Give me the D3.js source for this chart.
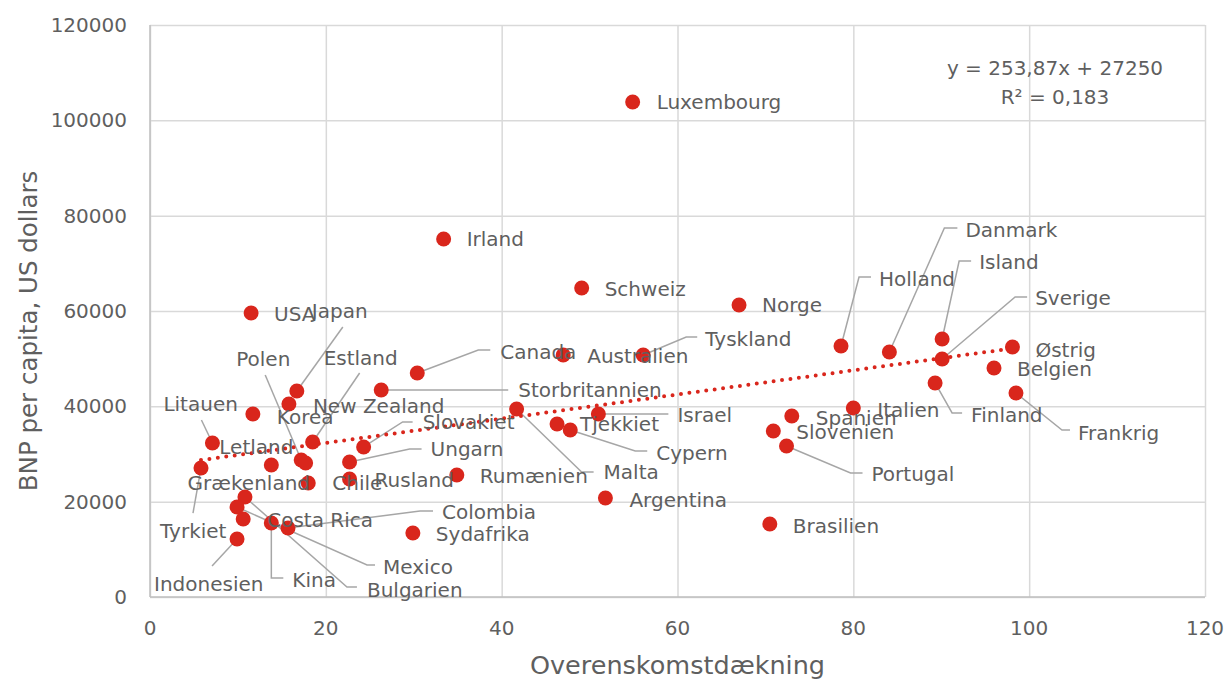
<!DOCTYPE html>
<html>
<head>
<meta charset="utf-8">
<script src="https://cdn.jsdelivr.net/npm/d3@7"></script>
<style>
	body { margin: 0; background: #fff; }
	svg text { font-family: "DejaVu Sans", "Lato", sans-serif; fill: #5f5f5f; }
	.grid line { stroke: #d9d9d9; stroke-width: 1.5; }
	.grid path { display: none; }
	.leader { stroke: #a6a6a6; stroke-width: 1.5; fill: none; }
</style>
</head>
<body>
<div id="chart"></div>
<script>
// data
const countries = ["Luxembourg", "Irland", "Schweiz", "Norge", "USA", "Japan", "New Zealand", "Korea",
	"Litauen", "Estland", "Slovakiet", "Tyrkiet", "Letland", "Polen", "Grækenland", "Ungarn",
	"Rusland", "Chile", "Bulgarien", "Mexico", "Costa Rica", "Kina", "Colombia", "Indonesien",
	"Sydafrika", "Rumænien", "Canada", "Storbritannien", "Australien", "Tyskland", "Malta", "Israel",
	"Tjekkiet", "Cypern", "Argentina", "Holland", "Danmark", "Island", "Sverige", "Østrig",
	"Belgien", "Finland", "Frankrig", "Italien", "Spanien", "Slovenien", "Portugal", "Brasilien"];
const coverage = [54.9, 33.4, 49.1, 67.0, 11.5, 16.7, 15.8, 11.7,
	7.1, 18.5, 24.3, 5.8, 13.8, 17.2, 17.7, 22.7,
	22.7, 18.0, 10.8, 9.9, 10.6, 13.8, 15.7, 9.9,
	29.9, 34.9, 30.4, 26.3, 47.0, 56.1, 41.7, 51.0,
	46.3, 47.8, 51.8, 78.6, 84.1, 90.1, 90.1, 98.1,
	96.0, 89.3, 98.5, 80.0, 73.0, 70.9, 72.4, 70.5];
const gdp = [103850, 75100, 64830, 61260, 59580, 43220, 40490, 38390,
	32310, 32520, 31470, 27060, 27690, 28740, 28110, 28320,
	24760, 23920, 20980, 18880, 16360, 15530, 14480, 12170,
	13430, 25600, 47000, 43430, 50770, 50770, 39440, 38390,
	36300, 35040, 20770, 52660, 51400, 54130, 49930, 52450,
	48040, 44900, 42800, 39650, 37970, 34830, 31680, 15320];
const xTicks = [0, 20, 40, 60, 80, 100, 120];
const yTicks = [0, 20000, 40000, 60000, 80000, 100000, 120000];
const trendSlope = 253.87, trendIntercept = 27250;
const trendLabel = ["y = 253,87x + 27250", "R² = 0,183"];

// label placement: text offset from the dot (px) and optional leader line points
const labelLayout = {
	"Luxembourg": {dx: 24, dy: 0}, "Irland": {dx: 23, dy: 0}, "Schweiz": {dx: 23, dy: 1},
	"Norge": {dx: 23, dy: 0}, "USA": {dx: 23, dy: 1},
	"Japan": {dx: 15, dy: -80, lead: [[46, -64]]},
	"New Zealand": {dx: 24, dy: 2}, "Korea": {dx: 24, dy: 3},
	"Litauen": {dx: -49, dy: -39, lead: [[-11, -23]]},
	"Estland": {dx: 11, dy: -84, lead: [[47, -69]]},
	"Slovakiet": {dx: 59, dy: -25, lead: [[39, -25], [49, -25]]},
	"Tyrkiet": {dx: -41, dy: 63, lead: [[-8, 45]]},
	"Letland": {dx: -52, dy: -18},
	"Polen": {dx: -65, dy: -101, lead: [[-36, -85]]},
	"Grækenland": {dx: -118, dy: 20},
	"Ungarn": {dx: 81, dy: -13, lead: [[60, -13], [72, -13]]},
	"Rusland": {dx: 25, dy: 1}, "Chile": {dx: 24, dy: 0},
	"Bulgarien": {dx: 122, dy: 93, lead: [[102, 90], [112, 90]]},
	"Mexico": {dx: 146, dy: 60, lead: [[130, 58], [138, 58]]},
	"Costa Rica": {dx: 24, dy: 1},
	"Kina": {dx: 21, dy: 57, lead: [[0, 55], [12, 55]]},
	"Colombia": {dx: 154, dy: -16, lead: [[132, -17], [145, -17]]},
	"Indonesien": {dx: -83, dy: 45, lead: [[-25, 27]]},
	"Sydafrika": {dx: 23, dy: 1}, "Rumænien": {dx: 23, dy: 1},
	"Canada": {dx: 83, dy: -21, lead: [[61, -23], [73, -23]]},
	"Storbritannien": {dx: 137, dy: 0, lead: [[127, 0]]},
	"Australien": {dx: 24, dy: 1},
	"Tyskland": {dx: 62, dy: -16, lead: [[43, -18], [54, -18]]},
	"Malta": {dx: 87, dy: 63, lead: [[65, 63], [77, 63]]},
	"Israel": {dx: 79, dy: 1, lead: [[70, 0]]},
	"Tjekkiet": {dx: 23, dy: 0},
	"Cypern": {dx: 86, dy: 23, lead: [[65, 21], [77, 21]]},
	"Argentina": {dx: 24, dy: 2},
	"Holland": {dx: 38, dy: -67, lead: [[18, -69], [30, -69]]},
	"Danmark": {dx: 76, dy: -122, lead: [[55, -124], [68, -124]]},
	"Island": {dx: 37, dy: -77, lead: [[17, -78], [29, -78]]},
	"Sverige": {dx: 93, dy: -61, lead: [[73, -62], [85, -62]]},
	"Østrig": {dx: 23, dy: 3}, "Belgien": {dx: 23, dy: 1},
	"Finland": {dx: 36, dy: 32, lead: [[17, 30], [27, 30]]},
	"Frankrig": {dx: 62, dy: 40, lead: [[46, 37], [54, 37]]},
	"Italien": {dx: 24, dy: 2}, "Spanien": {dx: 24, dy: 2}, "Slovenien": {dx: 23, dy: 1},
	"Portugal": {dx: 85, dy: 28, lead: [[64, 27], [76, 27]]},
	"Brasilien": {dx: 23, dy: 2}
};

const W = 1228, H = 679;
const plot = {left: 150, right: 1205, top: 25, bottom: 597};

const x = d3.scaleLinear().domain([0, 120]).range([plot.left, plot.right]);
const y = d3.scaleLinear().domain([0, 120000]).range([plot.bottom, plot.top]);

const svg = d3.select("#chart").append("svg")
	.attr("width", W)
	.attr("height", H);

// gridlines
svg.append("g")
	.attr("class", "grid")
	.attr("transform", "translate(0," + plot.bottom + ")")
	.call(d3.axisBottom(x).tickValues(xTicks).tickSize(-(plot.bottom - plot.top)).tickFormat(""));
svg.append("g")
	.attr("class", "grid")
	.attr("transform", "translate(" + plot.left + ",0)")
	.call(d3.axisLeft(y).tickValues(yTicks).tickSize(-(plot.right - plot.left)).tickFormat(""));

// axis lines
svg.append("line").attr("x1", plot.left).attr("x2", plot.right)
	.attr("y1", plot.bottom).attr("y2", plot.bottom)
	.style("stroke", "#bfbfbf").style("stroke-width", 1.5);
svg.append("line").attr("x1", plot.left).attr("x2", plot.left)
	.attr("y1", plot.top).attr("y2", plot.bottom)
	.style("stroke", "#bfbfbf").style("stroke-width", 1.5);

// tick labels
svg.append("g").selectAll("text").data(xTicks).enter().append("text")
	.attr("x", d => x(d))
	.attr("y", plot.bottom + 31)
	.attr("dy", "0.35em")
	.attr("text-anchor", "middle")
	.style("font-size", "20px")
	.text(d => d);
svg.append("g").selectAll("text").data(yTicks).enter().append("text")
	.attr("x", plot.left - 23)
	.attr("y", d => y(d))
	.attr("dy", "0.35em")
	.attr("text-anchor", "end")
	.style("font-size", "20px")
	.text(d => d);

// axis titles
svg.append("text")
	.attr("x", (plot.left + plot.right) / 2)
	.attr("y", 665)
	.attr("dy", "0.35em")
	.attr("text-anchor", "middle")
	.style("font-size", "25.5px")
	.text("Overenskomstdækning");
svg.append("text")
	.attr("transform", "translate(28,331) rotate(-90)")
	.attr("dy", "0.35em")
	.attr("text-anchor", "middle")
	.style("font-size", "24.5px")
	.text("BNP per capita, US dollars");

const pts = countries.map((c, i) => ({name: c, cx: x(coverage[i]), cy: y(gdp[i])}));

// leader lines
svg.append("g").selectAll("path")
	.data(pts.filter(d => labelLayout[d.name].lead))
	.enter().append("path")
	.attr("class", "leader")
	.attr("d", d => {
		let L = labelLayout[d.name];
		let s = "M" + d.cx + "," + d.cy;
		for (let p of L.lead) s += "L" + (d.cx + p[0]) + "," + (d.cy + p[1]);
		return s;
	});

// trendline
const xs = d3.extent(coverage);
svg.append("path")
	.datum(xs.map(v => [v, trendSlope * v + trendIntercept]))
	.attr("d", d3.line().x(d => x(d[0])).y(d => y(d[1])))
	.style("fill", "none")
	.style("stroke", "#d9261c")
	.style("stroke-width", 4)
	.style("stroke-linecap", "round")
	.style("stroke-dasharray", "0,8.5");

// points
svg.append("g").selectAll("circle").data(pts).enter().append("circle")
	.attr("cx", d => d.cx)
	.attr("cy", d => d.cy)
	.attr("r", 7.5)
	.style("fill", "#d9261c");

// data labels
svg.append("g").selectAll("text").data(pts).enter().append("text")
	.attr("x", d => d.cx + labelLayout[d.name].dx)
	.attr("y", d => d.cy + labelLayout[d.name].dy)
	.attr("dy", "0.35em")
	.style("font-size", "20px")
	.text(d => d.name);

// trendline equation
svg.append("g").selectAll("text").data(trendLabel).enter().append("text")
	.attr("x", 1055)
	.attr("y", (d, i) => 68 + i * 29)
	.attr("dy", "0.35em")
	.attr("text-anchor", "middle")
	.style("font-size", "20px")
	.text(d => d);
</script>
</body>
</html>
